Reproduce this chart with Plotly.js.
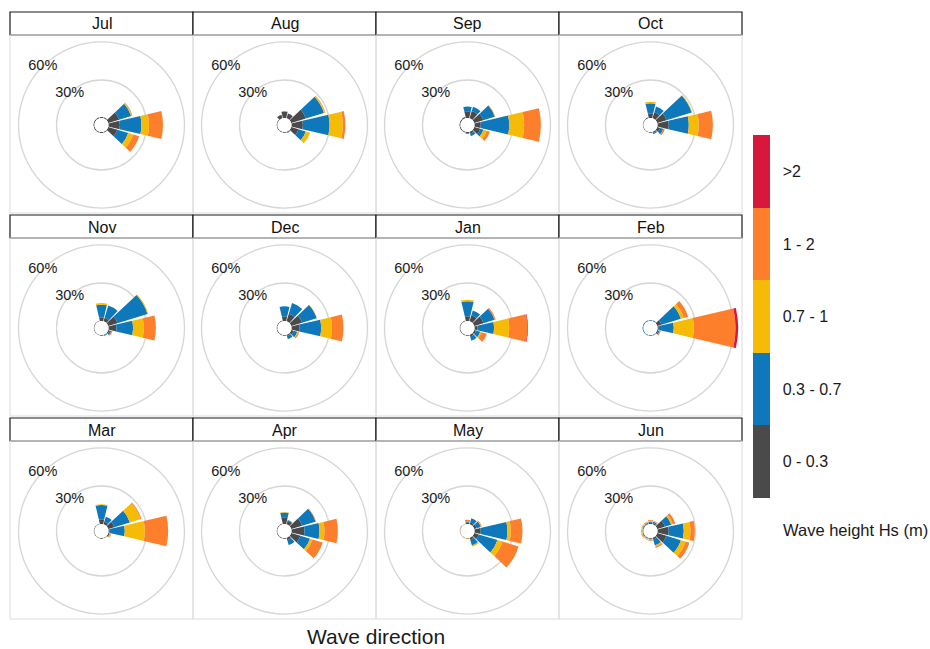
<!DOCTYPE html>
<html><head><meta charset="utf-8">
<script src="https://cdn.plot.ly/plotly-3.0.1.min.js"></script>
<style>body{margin:0;background:#fff}#chart{width:930px;height:649px}</style>
</head><body><div id="chart"></div>
<script>
const months = ['Jul','Aug','Sep','Oct','Nov','Dec','Jan','Feb','Mar','Apr','May','Jun'];
const directions = [0,30,60,90,120,150,180,210,240,270,300,330];
const classes = ['0 - 0.3','0.3 - 0.7','0.7 - 1','1 - 2','>2'];
const colors = ['#4a4a4a','#0f78bb','#f6bb06','#fd7f2c','#d8173d'];
const radialTicks = [30,60];
const radialTickText = ['30%','60%'];

// frequency (%) per direction, one row per wave-height class
const jul = [[0.8,0.8,9,9,7.5,0.8,0.8,0.8,0.8,0.8,0.8,0.8],[0,0,10,17,9,0,0,0,0,0,0,0],[0,0,0.5,6,4,0,0,0,0,0,0,0],[0,0,0.5,11,5,0,0,0,0,0,0,0],[0,0,0,0,0,0,0,0,0,0,0,0]];
const aug = [[5,4,12,9,6,0.8,0.6,0.6,0.6,0.6,0.6,3],[0.3,0,15,21,6,0.3,0,0,0,0,0,0],[0,0,1,10.5,3.5,0,0,0,0,0,0,0],[0,0,0.3,2,0,0,0,0,0,0,0,0],[0,0,0,0,0,0,0,0,0,0,0,0]];
const sep = [[5,6,7.5,5,5,1.5,0.8,0.8,0.8,0.8,0.8,1],[4,3.5,9.5,22.4,2.6,2.2,0.5,0,0,0,0,0],[0,0,0.5,11.8,2.7,0,0,0,0,0,0,0],[0,0,0,13.2,2.6,0,0,0,0,0,0,0],[0,0,0,0,0,0,0,0,0,0,0,0]];
const oct = [[3.7,5,7.6,8.9,2.4,1,0.5,0.5,0.5,0.5,0.5,0.8],[7.9,4.7,20.8,15.8,2.6,1,0,0,0,0,0,0],[1.3,0,0.5,7.9,0,0,0,0,0,0,0,0],[0,0,0,11.1,1.3,0,0,0,0,0,0,0],[0,0,0,0,0,0,0,0,0,0,0,0]];
const nov = [[3,3,7.6,6.3,1,0.5,0.5,0.5,0.5,0.5,0.5,0.5],[9.9,10,24.8,13.2,1.5,0.5,0,0,0,0,0,0],[1.3,0,0.7,8.4,0,0,0,0,0,0,0,0],[0,0,0,9.5,1,0,0,0,0,0,0,0],[0,0,0,0,0,0,0,0,0,0,0,0]];
const dec = [[3.7,6.3,9,6.3,2,1,0.6,0.6,0.6,0.6,0.6,0.6],[7.9,8.7,12,17.1,3,2.7,0,0,0,0,0,0],[0,0,0.3,8.6,0.5,0,0,0,0,0,0,0],[0,0,0,9,1,0,0,0,0,0,0,0],[0,0,0,0,0,0,0,0,0,0,0,0]];
const jan = [[3.7,5,7.6,2.4,1.5,1.5,0.6,0.6,0.6,0.6,0.6,0.6],[11.8,4,9.2,13.1,3.5,3.5,0,0,0,0,0,0],[1.3,0,0,11.9,1,0,0,0,0,0,0,0],[0,0,1,14.4,4.5,0,0,0,0,0,0,0],[0,0,0,0.5,0,0,0,0,0,0,0,0]];
const feb = [[0.3,0.3,3.5,1,1,0.3,0.3,0.3,0.3,0.3,0.3,0.3],[0.5,0.5,16,11.9,1,0.5,0.5,0.5,0.5,0.5,0.5,0.5],[0,0,2.5,15.8,0,0,0,0,0,0,0,0],[0,0,3.5,32.9,1,0,0,0,0,0,0,0],[0,0,0,2.1,0,0,0,0,0,0,0,0]];
const mar = [[3.7,2,5,1,1,0.5,0.5,0.5,0.5,0.5,0.5,0.5],[11.3,4.3,12.9,11.9,0.5,0,0,0,0,0,0,0],[0.5,0,8.7,15.8,0.5,0,0,0,0,0,0,0],[0,0,0.8,18.4,0.5,0,0,0,0,0,0,0],[0,0,0,0,0,0,0,0,0,0,0,0]];
const apr = [[5,3,9,10.3,7.6,2,0.6,0.6,0.6,0.6,0.6,0.6],[4,0.5,11,11.8,7.9,4,0,0,0,0,0,0],[0.5,0,0,3.9,2.1,0,0,0,0,0,0,0],[0,0,0.5,10.6,8.4,0,0,0,0,0,0,0],[0,0,0,0,0,0,0,0,0,0,0,0]];
const may = [[1,1.5,2,5,3.7,1.5,0.3,0.3,0.3,0.3,0.3,0.3],[0.5,3.5,3.5,21,15.5,5,0,0,0,0,0,0],[0.3,0,0.3,2.7,4.2,1,0.2,0,0.2,0,0.2,0.2],[1.5,0,0.5,9.2,13.2,0,0.3,0.3,0,0.3,0.3,0],[0,0,0,0,0,0,0,0,0,0,0,0]];
const jun = [[1,1,6.3,8.9,7.6,1.5,0.6,0.6,0.6,0.6,0.6,0.6],[1,1,5.3,11.9,11.9,5,0.6,0.3,0.6,0.3,0.6,0.6],[0.6,0.5,1.3,5.2,3.9,1,0.4,0.4,0.4,0.4,0.4,0.6],[0.6,0.5,2.1,3.5,3.2,1,0.6,0.5,0.6,0.5,0.5,0.5],[0,0,0,0,0,0,0,0,0,0,0,0]];
const monthData = [jul,aug,sep,oct,nov,dec,jan,feb,mar,apr,may,jun];

const W = 930, H = 649;
const R = 90.6, rMax = 66, holePx = 7;
const traces = [];
const layout = {
  width: W, height: H, margin: {l:0,r:0,t:0,b:0},
  paper_bgcolor: '#fff', plot_bgcolor: '#fff',
  font: {family: 'Liberation Sans, Arial, sans-serif', color: '#1a1a1a'},
  showlegend: false, shapes: [], annotations: []
};
const colorscale = [];
colors.forEach((c,k)=>{ colorscale.push([k/5,c]); colorscale.push([(k+1)/5,c]); });

months.forEach((m,i)=>{
  const col = i%4, row = Math.floor(i/4);
  const cx = 101.5 + 183*col, cy = 125 + 203*row;
  const pid = i===0 ? 'polar' : 'polar'+(i+1);
  layout[pid] = {
    domain: {x:[(cx-R)/W,(cx+R)/W], y:[1-(cy+R)/H, 1-(cy-R)/H]},
    hole: holePx/R, bgcolor: 'rgba(0,0,0,0)', barmode: 'stack', bargap: 0.12,
    radialaxis: {range:[0,rMax], tickvals: radialTicks, showticklabels:false, showline:false, ticks:'', gridcolor:'#d6d6d6', gridwidth:1.3},
    angularaxis: {direction:'clockwise', rotation:90, showgrid:false, showline:false, ticks:'', showticklabels:false}
  };
  monthData[i].forEach((vals,k)=>{
    traces.push({type:'barpolar', subplot: pid, r: vals, theta: directions, name: classes[k],
      marker:{color: colors[k], line:{width:0}}, hoverinfo:'skip'});
  });
  traces.push({type:'scatterpolar', subplot: pid, mode:'text', r: radialTicks, theta:[315,315],
    text: radialTickText, textfont:{size:14.5, color:'#1a1a1a'}, hoverinfo:'skip'});
  // strip
  const x0 = 10 + 183*col, x1 = x0 + 183;
  const sy0 = 12 + 203*row, sy1 = sy0 + 23, by1 = sy1 + 178;
  layout.shapes.push({type:'rect', xref:'paper', yref:'paper', x0:x0/W, x1:x1/W, y0:1-sy1/H, y1:1-sy0/H, line:{color:'#1a1a1a', width:1.2}, fillcolor:'#fff', layer:'below'});
  layout.shapes.push({type:'rect', xref:'paper', yref:'paper', x0:x0/W, x1:x1/W, y0:1-by1/H, y1:1-sy1/H, line:{color:'#dcdcdc', width:1}, fillcolor:'rgba(0,0,0,0)', layer:'below'});
  layout.annotations.push({xref:'paper', yref:'paper', x:(x0+x1)/2/W, y:1-(sy0+12)/H, text:m, showarrow:false, font:{size:16, color:'#111'}, xanchor:'center', yanchor:'middle'});
});

// colour key
traces.push({type:'barpolar', subplot:'polar', r:[0], theta:[0], hoverinfo:'skip',
  marker:{color:[0], colorscale: colorscale, cmin:0, cmax:5, showscale:true,
    colorbar:{x:753/W, xanchor:'left', xpad:0, y:1-316.5/H, yanchor:'middle', ypad:0,
      thickness:17, thicknessmode:'pixels', len:363, lenmode:'pixels', outlinewidth:0,
      tickvals:[0.5,1.5,2.5,3.5,4.5], ticktext: classes, ticks:'outside', ticklen:10, tickcolor:'rgba(0,0,0,0)',
      tickfont:{size:16, color:'#1a1a1a'}}}});
layout.annotations.push({xref:'paper', yref:'paper', x:781/W, y:1-530/H, text:'Wave height Hs (m)', showarrow:false, xanchor:'left', yanchor:'middle', font:{size:16.5, color:'#1a1a1a'}});
layout.annotations.push({xref:'paper', yref:'paper', x:376/W, y:1-636/H, text:'Wave direction', showarrow:false, xanchor:'center', yanchor:'middle', font:{size:21, color:'#1a1a1a'}});

Plotly.newPlot('chart', traces, layout, {displayModeBar:false, staticPlot:true});
</script></body></html>
